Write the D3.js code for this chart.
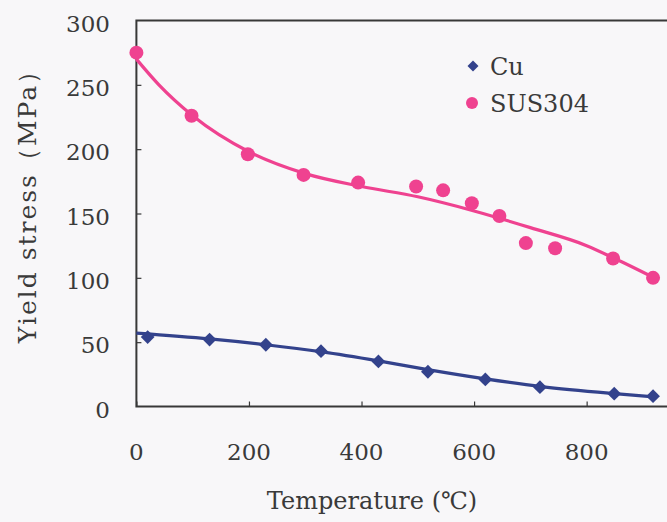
<!DOCTYPE html>
<html>
<head>
<meta charset="utf-8">
<script src="https://cdn.jsdelivr.net/npm/d3@7"></script>
<style>
  html, body { margin: 0; padding: 0; background: #f8f7f9; }
  svg { display: block; }
  text { font-family: "DejaVu Serif", "Liberation Serif", serif; fill: #3a3a3a; }
</style>
</head>
<body>
<svg id="chart" width="667" height="522"></svg>
<script>
// ---- data ----
const cuTemp   = [20, 130, 230, 328, 430, 518, 620, 717, 849, 918];
const cuStress = [54, 52, 48, 43, 35, 27, 21, 15, 10, 8];
const cuFitTemp   = [0, 130, 230, 330, 430, 520, 620, 720, 850, 920];
const cuFitStress = [57, 52.5, 48, 42.5, 35.5, 28.5, 21.5, 15.5, 10, 7.5];

const susTemp   = [0, 98, 198, 297, 394, 497, 545, 596, 645, 692, 744, 847, 918];
const susStress = [275, 226, 196, 180, 174, 171, 168, 158, 148, 127, 123, 115, 100];
const susFitTemp   = [0, 40, 100, 200, 300, 400, 500, 600, 700, 800, 850, 920];
const susFitStress = [270, 250, 226, 198, 181, 171, 163, 152, 139, 125, 115, 100];

const xTicks = [0, 200, 400, 600, 800];
const yTicks = [0, 50, 100, 150, 200, 250, 300];
const seriesNames = ["Cu", "SUS304"];
const xTitle = "Temperature (℃)";
const yTitle = "Yield stress（MPa）";

// ---- layout ----
const svg = d3.select("#chart");
const W = 667, H = 522;
const x = d3.scaleLinear().domain([0, 1000]).range([136.4, 699.2]);
const y = d3.scaleLinear().domain([0, 300]).range([406.5, 20.5]);
const cuColor = "#33428c";
const susColor = "#ef4290";
const axisColor = "#383838";

svg.append("rect").attr("width", W).attr("height", H).attr("fill", "#f8f7f9");

// frame
svg.append("rect")
  .attr("x", x(0)).attr("y", y(300))
  .attr("width", x(1000) - x(0)).attr("height", y(0) - y(300))
  .attr("fill", "none").attr("stroke", axisColor).attr("stroke-width", 2);

// axes (ticks inside)
const xAxis = svg.append("g").attr("transform", `translate(0,${y(0)})`)
  .call(d3.axisTop(x).tickValues(xTicks.concat([1000])).tickSize(5).tickFormat(""));
xAxis.select(".domain").remove();
xAxis.selectAll("line").attr("stroke", axisColor).attr("stroke-width", 1.2);

const yAxis = svg.append("g").attr("transform", `translate(${x(0)},0)`)
  .call(d3.axisRight(y).tickValues(yTicks.filter(v => v > 0 && v < 300)).tickSize(5).tickFormat(""));
yAxis.select(".domain").remove();
yAxis.selectAll("line").attr("stroke", axisColor).attr("stroke-width", 1.2);

// tick labels
svg.append("g").selectAll("text").data(xTicks).join("text")
  .attr("x", d => x(d)).attr("y", 460)
  .attr("text-anchor", "middle").attr("font-size", 23)
  .text(d => d);

svg.append("g").selectAll("text").data(yTicks).join("text")
  .attr("x", 110).attr("y", d => y(d) + 11)
  .attr("text-anchor", "end").attr("font-size", 23)
  .text(d => d);

// axis titles
svg.append("text").attr("x", 372).attr("y", 509)
  .attr("text-anchor", "middle").attr("font-size", 24).text(xTitle);
svg.append("text")
  .attr("transform", `translate(36,${200}) rotate(-90)`)
  .attr("text-anchor", "middle").attr("font-size", 25)
  .attr("letter-spacing", 2).text(yTitle);

// lines
const line = d3.line().x(d => x(d[0])).y(d => y(d[1])).curve(d3.curveMonotoneX);
svg.append("path").datum(d3.zip(cuFitTemp, cuFitStress))
  .attr("d", line).attr("fill", "none").attr("stroke", cuColor).attr("stroke-width", 3.2);
svg.append("path").datum(d3.zip(susFitTemp, susFitStress))
  .attr("d", line).attr("fill", "none").attr("stroke", susColor).attr("stroke-width", 3.2);

// markers
svg.append("g").selectAll("path").data(d3.zip(cuTemp, cuStress)).join("path")
  .attr("d", d3.symbol().type(d3.symbolSquare).size(95))
  .attr("transform", d => `translate(${x(d[0])},${y(d[1])}) rotate(45)`)
  .attr("fill", cuColor);
svg.append("g").selectAll("circle").data(d3.zip(susTemp, susStress)).join("circle")
  .attr("cx", d => x(d[0])).attr("cy", d => y(d[1])).attr("r", 7)
  .attr("fill", susColor);

// legend
const leg = svg.append("g");
leg.append("path").attr("d", d3.symbol().type(d3.symbolSquare).size(60)())
  .attr("transform", "translate(473,66) rotate(45)").attr("fill", cuColor);
leg.append("circle").attr("cx", 472).attr("cy", 103).attr("r", 6).attr("fill", susColor);
leg.append("text").attr("x", 490).attr("y", 75).attr("font-size", 24).text(seriesNames[0]);
leg.append("text").attr("x", 490).attr("y", 112).attr("font-size", 24).text(seriesNames[1]);
</script>
</body>
</html>
